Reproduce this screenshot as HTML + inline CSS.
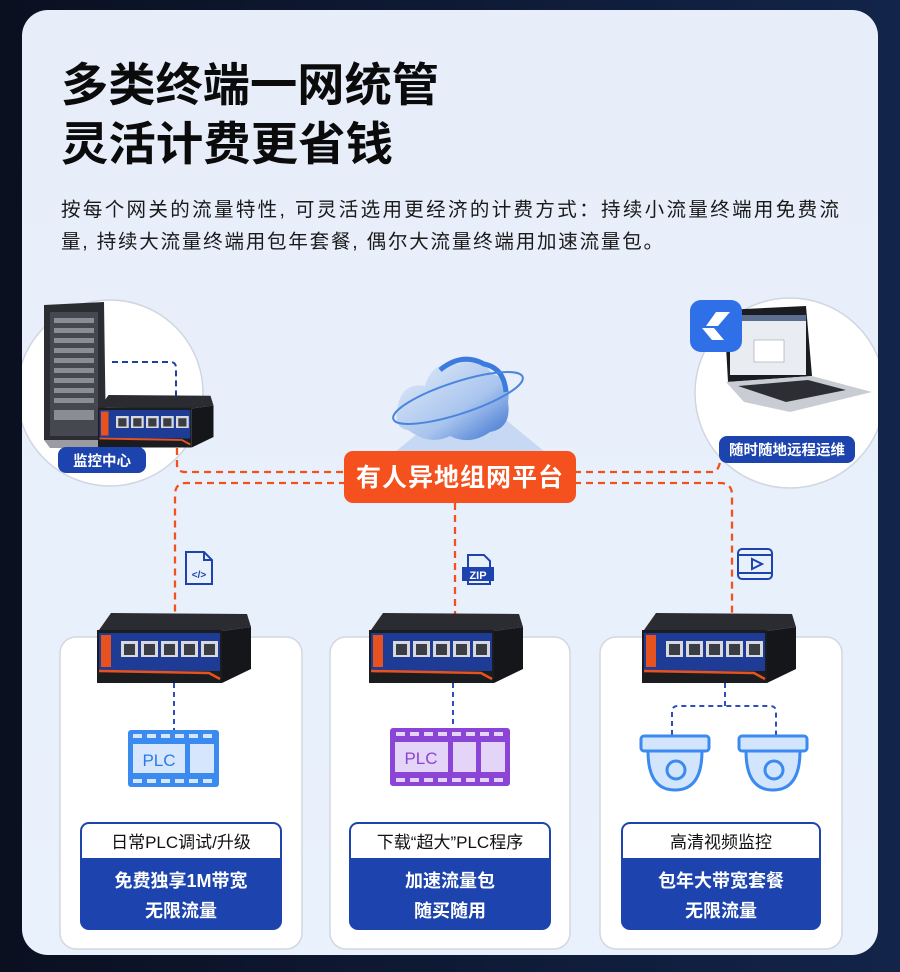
<!DOCTYPE html>
<html><head><meta charset="utf-8"><style>
*{margin:0;padding:0;box-sizing:border-box}
html,body{width:900px;height:972px;overflow:hidden;background:#070d1e}
.f{font-family:"Liberation Sans","Noto Sans CJK SC",sans-serif}
</style></head><body>
<svg width="900" height="972" viewBox="0 0 900 972" xmlns="http://www.w3.org/2000/svg" class="f">
<defs>
<linearGradient id="bg" x1="0" y1="0" x2="0" y2="1"><stop offset="0" stop-color="#e7eefa"/><stop offset="1" stop-color="#e9f1fc"/></linearGradient>
<linearGradient id="outer" x1="0" y1="0" x2="1" y2="0"><stop offset="0" stop-color="#0a1020"/><stop offset="1" stop-color="#13244a"/></linearGradient>
<linearGradient id="cloud" x1="0" y1="0" x2="1" y2="1"><stop offset="0" stop-color="#e6eef9"/><stop offset="0.6" stop-color="#a9c5ee"/><stop offset="1" stop-color="#3a70cf"/></linearGradient>
<clipPath id="cc"><rect x="22" y="10" width="856" height="945" rx="26"/></clipPath>
<g id="sw">
 <polygon points="2,17 14,0 150,1 154,14 125,18" fill="#2b2c31"/>
 <polygon points="125,18 154,14 154,56 125,70" fill="#151619"/>
 <rect x="0" y="17" width="125" height="53" fill="#1b1c20"/>
 <rect x="2" y="20" width="121" height="38" fill="#1e3c96"/>
 <rect x="4" y="22" width="10" height="32" fill="#e8521e"/>
 <polyline points="2,58 112,60 123,66" stroke="#e8521e" stroke-width="2.5" fill="none"/>
 <g fill="#d7d9dd">
  <rect x="24" y="28" width="17" height="16"/><rect x="44" y="28" width="17" height="16"/><rect x="64" y="28" width="17" height="16"/><rect x="84" y="28" width="17" height="16"/><rect x="104" y="28" width="17" height="16"/>
 </g>
 <g fill="#3a3d43">
  <rect x="27" y="31" width="11" height="11"/><rect x="47" y="31" width="11" height="11"/><rect x="67" y="31" width="11" height="11"/><rect x="87" y="31" width="11" height="11"/><rect x="107" y="31" width="11" height="11"/>
 </g>
</g>
</defs>
<rect width="900" height="972" fill="url(#outer)"/>
<rect x="22" y="10" width="856" height="945" rx="26" fill="url(#bg)"/>

<text x="61" y="101" font-size="46" font-weight="bold" fill="#0b0b0b" textLength="378" lengthAdjust="spacingAndGlyphs">多类终端一网统管</text>
<text x="61" y="160" font-size="46" font-weight="bold" fill="#0b0b0b" textLength="332" lengthAdjust="spacingAndGlyphs">灵活计费更省钱</text>
<text x="61" y="216" font-size="19.5" fill="#1a1a1a" textLength="778" lengthAdjust="spacing">按每个网关的流量特性, 可灵活选用更经济的计费方式：持续小流量终端用免费流</text>
<text x="61" y="248" font-size="19.5" fill="#1a1a1a" textLength="602" lengthAdjust="spacing">量, 持续大流量终端用包年套餐, 偶尔大流量终端用加速流量包。</text>

<g clip-path="url(#cc)">
<!-- left circle -->
<circle cx="110" cy="393" r="93" fill="#fff" stroke="#cfd6e0" stroke-width="1.5"/>
<g>
 <polygon points="44,305 104,302 106,440 44,440" fill="#2b2d33"/>
 <rect x="50" y="312" width="48" height="124" fill="#454850"/>
 <g fill="#8a8d94"><rect x="54" y="318" width="40" height="5"/><rect x="54" y="328" width="40" height="5"/><rect x="54" y="338" width="40" height="5"/><rect x="54" y="348" width="40" height="5"/><rect x="54" y="358" width="40" height="5"/><rect x="54" y="368" width="40" height="5"/><rect x="54" y="378" width="40" height="5"/><rect x="54" y="388" width="40" height="5"/><rect x="54" y="398" width="40" height="5"/><rect x="54" y="410" width="40" height="10"/></g>
 <polygon points="44,440 106,440 112,448 50,448" fill="#9a9ca2"/>
</g>
<path d="M112 362 H170 Q176 362 176 368 V398" stroke="#1f3fa5" stroke-width="2" stroke-dasharray="6 4" fill="none"/>
<use href="#sw" transform="translate(98 395) scale(0.75)"/>
<rect x="58" y="447" width="88" height="26" rx="8" fill="#1d44ae"/>
<text x="102" y="466" font-size="14.5" font-weight="bold" fill="#fff" text-anchor="middle">监控中心</text>

<!-- right circle -->
<circle cx="790" cy="393" r="95" fill="#fff" stroke="#cfd6e0" stroke-width="1.5"/>
<g>
 <polygon points="724,310 806,306 812,376 728,382" fill="#1a1c22"/>
 <rect x="730" y="315" width="76" height="60" fill="#e9ecf1"/>
 <rect x="730" y="315" width="76" height="6" fill="#5b6e8f"/>
 <rect x="754" y="340" width="30" height="22" fill="#fff" stroke="#9aa3b2" stroke-width="0.6"/>
 <polygon points="726,382 812,376 872,392 790,412 744,402" fill="#c9ccd2"/>
 <polygon points="738,386 808,380 846,390 786,402" fill="#2c2e34"/>
</g>
<rect x="690" y="300" width="52" height="52" rx="11" fill="#2f6fe8"/>
<polygon points="716,312 730,312 718,326 706,326" fill="#fff"/>
<polygon points="702,328 714,328 724,340 712,340" fill="#fff"/>
<rect x="719" y="436" width="136" height="27" rx="8" fill="#1d44ae"/>
<text x="787" y="455" font-size="14.5" font-weight="bold" fill="#fff" text-anchor="middle">随时随地远程运维</text>
</g>

<!-- cloud -->
<polygon points="395,452 440,415 500,415 545,452" fill="#b8cef0" opacity="0.7"/>
<g>
 <path d="M408 430 Q392 428 398 405 Q403 382 425 386 Q432 360 458 364 Q480 354 492 374 Q512 378 508 402 Q512 428 490 432 Q470 446 450 436 Q430 446 408 430 Z" fill="url(#cloud)"/>
 <path d="M440 370 Q462 352 484 364 Q504 368 506 392" stroke="#3b7be0" stroke-width="5" fill="none"/>
 <ellipse cx="458" cy="398" rx="68" ry="16" transform="rotate(-18 458 398)" fill="none" stroke="#4b86dc" stroke-width="2"/>
</g>

<!-- orange dashed lines -->
<g stroke="#f4501e" stroke-width="2.3" stroke-dasharray="7 5" fill="none">
 <path d="M177 448 V465 Q177 472 186 472 H346"/>
 <path d="M574 472 H712 Q718 472 720 462"/>
 <path d="M346 483 H186 Q175 483 175 495 V615"/>
 <path d="M574 483 H720 Q732 483 732 495 V615"/>
 <path d="M455 503 V615"/>
</g>
<rect x="344" y="451" width="232" height="52" rx="9" fill="#f4511e"/>
<text x="460" y="486" font-size="25" font-weight="bold" fill="#fff" text-anchor="middle" letter-spacing="1">有人异地组网平台</text>

<!-- small icons -->
<g fill="none" stroke="#1d44ae" stroke-width="2">
 <path d="M186 552 H204 L212 560 V584 H186 Z"/>
 <path d="M204 552 V560 H212"/>
</g>
<text x="199" y="578" font-size="10" font-weight="bold" fill="#1d44ae" text-anchor="middle">&lt;/&gt;</text>
<g fill="none" stroke="#1d44ae" stroke-width="2"><path d="M468 555 H484 L490 561 V584 H468 Z"/></g>
<rect x="462" y="567" width="32" height="14" fill="#1d44ae"/>
<text x="478" y="579" font-size="11" font-weight="bold" fill="#fff" text-anchor="middle">ZIP</text>
<rect x="738" y="549" width="34" height="30" rx="4" fill="none" stroke="#1d44ae" stroke-width="2"/>
<line x1="738" y1="555" x2="772" y2="555" stroke="#1d44ae" stroke-width="2"/>
<line x1="738" y1="573" x2="772" y2="573" stroke="#1d44ae" stroke-width="2"/>
<polygon points="752,559 762,564 752,569" fill="none" stroke="#1d44ae" stroke-width="2"/>

<!-- bottom cards -->
<g fill="#fff" stroke="#d3d8df" stroke-width="1.5">
 <rect x="60" y="637" width="242" height="312" rx="16"/>
 <rect x="330" y="637" width="240" height="312" rx="16"/>
 <rect x="600" y="637" width="242" height="312" rx="16"/>
</g>
<use href="#sw" x="97" y="613"/>
<use href="#sw" x="369" y="613"/>
<use href="#sw" x="642" y="613"/>

<g stroke="#2a4fb8" stroke-width="2" stroke-dasharray="5 4" fill="none">
 <path d="M174 683 V730"/>
 <path d="M453 683 V728"/>
 <path d="M725 683 V706 M672 735 V712 Q672 706 678 706 H770 Q776 706 776 712 V735"/>
</g>

<!-- PLC blue film -->
<rect x="128" y="730" width="91" height="57" rx="3" fill="#3a8af0"/>
<g fill="#d6e7fd"><rect x="133" y="734" width="9" height="4"/><rect x="147" y="734" width="9" height="4"/><rect x="161" y="734" width="9" height="4"/><rect x="175" y="734" width="9" height="4"/><rect x="189" y="734" width="9" height="4"/><rect x="203" y="734" width="9" height="4"/>
<rect x="133" y="779" width="9" height="4"/><rect x="147" y="779" width="9" height="4"/><rect x="161" y="779" width="9" height="4"/><rect x="175" y="779" width="9" height="4"/><rect x="189" y="779" width="9" height="4"/><rect x="203" y="779" width="9" height="4"/>
<rect x="133" y="744" width="52" height="29"/><rect x="190" y="744" width="24" height="29"/></g>
<text x="159" y="766" font-size="17" fill="#2a7be8" text-anchor="middle">PLC</text>

<!-- PLC purple film -->
<rect x="390" y="728" width="120" height="58" rx="3" fill="#8a45d6"/>
<g fill="#e4d4f7"><rect x="396" y="732" width="9" height="4"/><rect x="410" y="732" width="9" height="4"/><rect x="424" y="732" width="9" height="4"/><rect x="438" y="732" width="9" height="4"/><rect x="452" y="732" width="9" height="4"/><rect x="466" y="732" width="9" height="4"/><rect x="480" y="732" width="9" height="4"/><rect x="494" y="732" width="9" height="4"/>
<rect x="396" y="778" width="9" height="4"/><rect x="410" y="778" width="9" height="4"/><rect x="424" y="778" width="9" height="4"/><rect x="438" y="778" width="9" height="4"/><rect x="452" y="778" width="9" height="4"/><rect x="466" y="778" width="9" height="4"/><rect x="480" y="778" width="9" height="4"/><rect x="494" y="778" width="9" height="4"/>
<rect x="395" y="742" width="53" height="30"/><rect x="453" y="742" width="23" height="30"/><rect x="481" y="742" width="24" height="30"/></g>
<text x="421" y="764" font-size="17" fill="#8a45d6" text-anchor="middle">PLC</text>

<!-- cameras -->
<g fill="#d3e5fc" stroke="#3a8af0" stroke-width="3">
 <rect x="641" y="736" width="68" height="15" rx="3"/>
 <path d="M648 751 Q648 790 675 790 Q702 790 702 751 Z"/>
 <circle cx="676" cy="770" r="9"/>
 <rect x="739" y="736" width="68" height="15" rx="3"/>
 <path d="M746 751 Q746 790 773 790 Q800 790 800 751 Z"/>
 <circle cx="774" cy="770" r="9"/>
</g>

<!-- info boxes -->
<g>
 <rect x="80" y="822" width="202" height="108" rx="9" fill="#1d44ae"/>
 <rect x="82" y="824" width="198" height="34" rx="7" fill="#fff"/><rect x="82" y="845" width="198" height="13" fill="#fff"/>
 <text x="181" y="848" font-size="17" fill="#111" text-anchor="middle">日常PLC调试/升级</text>
 <text x="181" y="887" font-size="18" font-weight="bold" fill="#fff" text-anchor="middle">免费独享1M带宽</text>
 <text x="181" y="917" font-size="18" font-weight="bold" fill="#fff" text-anchor="middle">无限流量</text>

 <rect x="349" y="822" width="202" height="108" rx="9" fill="#1d44ae"/>
 <rect x="351" y="824" width="198" height="34" rx="7" fill="#fff"/><rect x="351" y="845" width="198" height="13" fill="#fff"/>
 <text x="450" y="848" font-size="17" fill="#111" text-anchor="middle">下载“超大”PLC程序</text>
 <text x="450" y="887" font-size="18" font-weight="bold" fill="#fff" text-anchor="middle">加速流量包</text>
 <text x="450" y="917" font-size="18" font-weight="bold" fill="#fff" text-anchor="middle">随买随用</text>

 <rect x="621" y="822" width="200" height="108" rx="9" fill="#1d44ae"/>
 <rect x="623" y="824" width="196" height="34" rx="7" fill="#fff"/><rect x="623" y="845" width="196" height="13" fill="#fff"/>
 <text x="721" y="848" font-size="17" fill="#111" text-anchor="middle">高清视频监控</text>
 <text x="721" y="887" font-size="18" font-weight="bold" fill="#fff" text-anchor="middle">包年大带宽套餐</text>
 <text x="721" y="917" font-size="18" font-weight="bold" fill="#fff" text-anchor="middle">无限流量</text>
</g>
</svg>
</body></html>
